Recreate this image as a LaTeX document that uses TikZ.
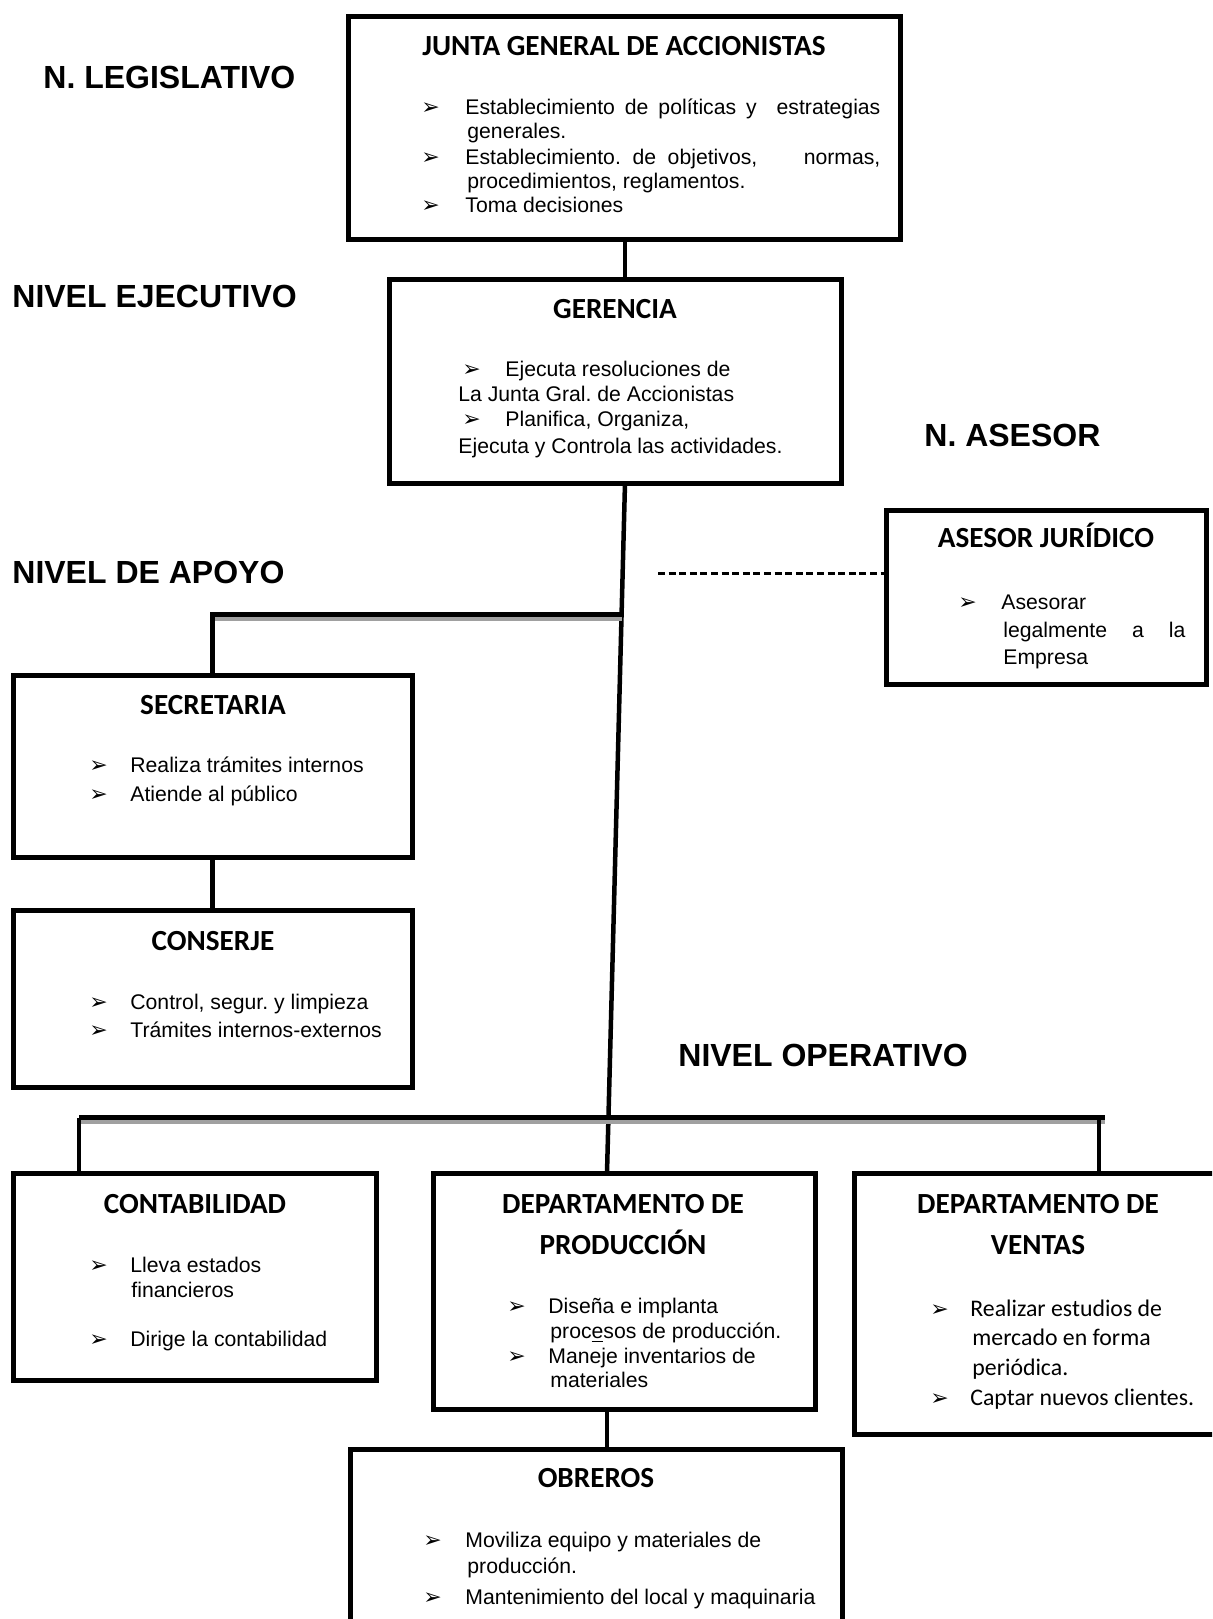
\documentclass[tikz,border=0pt]{standalone}
\usepackage{fontspec}
\setmainfont{Liberation Sans}
\newfontfamily\calib{Carlito}
\newfontfamily\dejavu{DejaVu Sans}
\usetikzlibrary{calc}

\definecolor{barshadow}{HTML}{A0A0A0}

% arrowhead bullet
\newcommand\bul{{\dejavu\fontsize{11}{11}\selectfont ➢}}
% framed unit given by its corner coordinates (left, top, right, bottom)
\newcommand\orgbox[5]{\node[box, minimum width={(#4-#2)*0.5pt}, minimum height={(#5-#3)*0.5pt}] (#1) at ({(#2+#4)/2},{(#3+#5)/2}) {};}

\tikzset{
  box/.style={draw, line width=2.5pt, rectangle, inner sep=0pt, outer sep=0pt},
  conn/.style={line width=2.25pt},
  bar/.style={line width=2.5pt, line join=miter},
  barshade/.style={line width=2pt, draw=barshadow},
  advice/.style={line width=1.5pt, dash pattern=on 3.5pt off 1.8pt},
  body/.style={inner sep=0pt, anchor=base west, font=\fontsize{10.6}{12.4}\selectfont},
  vbody/.style={inner sep=0pt, anchor=base west, font=\calib\fontsize{11.9}{14}\selectfont},
  title/.style={inner sep=0pt, anchor=base, font=\calib\bfseries\fontsize{14.6}{17}\selectfont},
  level/.style={inner sep=0pt, anchor=base west, font=\bfseries\fontsize{16}{19}\selectfont},
  bmark/.style={inner sep=0pt, anchor=base west},
}

\begin{document}
\frenchspacing
\begin{tikzpicture}[x=0.5pt, y=-0.5pt]
\path[use as bounding box] (0,0) rectangle (1212,1619);
\clip (0,0) rectangle (1212,1619);

% ---------- boxes ----------
\orgbox{junta}{348}{16}{900}{239}
\orgbox{geren}{389}{279}{841}{483}
\orgbox{asesor}{886}{510}{1206}{684}
\orgbox{secre}{13}{675}{412}{857}
\orgbox{conse}{13}{910}{412}{1087}
\orgbox{conta}{13}{1173}{376}{1380}
\orgbox{prod}{433}{1173}{815}{1409}
\orgbox{ventas}{854}{1173}{1230}{1434}
\orgbox{obreros}{350}{1449}{842}{1650}

% ---------- connectors ----------
\coordinate (jx) at (625,0);
\draw[conn] (junta.south -| jx) -- (geren.north -| jx);

\coordinate (mtop) at (geren.south -| jx);
\coordinate (mbot) at ($(prod.north)+(-17,0)$);
\draw[conn] (mtop) -- (mbot);

% support level branch
\coordinate (ja) at ($(mtop)!0.19!(mbot)$);
\draw[barshade] ($(ja)+(0,4.5)$) -- ($(ja -| secre.north)+(2,4.5)$);
\draw[bar] (ja) -- (ja -| secre.north) -- (secre.north);
\draw[conn] (secre.south) -- (conse.north);

% advisory link
\coordinate (dstart) at (658,573);
\draw[advice] (dstart) -- (dstart -| asesor.west);

% operative level branch
\coordinate (ol) at (79,1117.5);
\coordinate (orr) at (1105,1117.5);
\coordinate (ovr) at (1099,1117.5);
\draw[barshade] (80,1122) -- (1105,1122);
\draw[bar] (ol) -- (orr);
\draw[conn] (ol) -- (ol |- conta.north);
\draw[conn] (ovr) -- (ovr |- ventas.north);
\draw[conn] (prod.south -| mbot) -- (obreros.north -| mbot);

% ---------- level labels ----------
\node[level] (lleg) at (43,88.5) {N. LEGISLATIVO};
\node[level] (lejec) at (12,307.5) {NIVEL EJECUTIVO};
\node[level] (lases) at (924,446.5) {N. ASESOR};
\node[level] (lapoy) at (12,583.5) {NIVEL DE APOYO};
\node[level] (loper) at (678,1066.5) {NIVEL OPERATIVO};

% ---------- junta ----------
\node[title] (tjunta) at (624,55.5) {JUNTA GENERAL DE ACCIONISTAS};
\node[bmark] (ja1) at (421,114) {\bul};
\node[body] (jt1) at (465,114) {\makebox[207.5pt][s]{Establecimiento de políticas y\ \ estrategias}};
\node[body] (jt2) at (467,138) {generales.};
\node[bmark] (ja3) at (421,164) {\bul};
\node[body] (jt3) at (465,164) {\makebox[207.5pt][s]{Establecimiento. de objetivos,\ \ \ \ normas,}};
\node[body] (jt4) at (467,188) {procedimientos, reglamentos.};
\node[bmark] (ja5) at (421,212) {\bul};
\node[body] (jt5) at (465,212) {Toma decisiones};

% ---------- gerencia ----------
\node[title] (tgeren) at (615,318.5) {GERENCIA};
\node[bmark] (ga1) at (462,376) {\bul};
\node[body] (gt1) at (505,376) {Ejecuta resoluciones de};
\node[body] (gt2) at (458,401) {La Junta Gral. de Accionistas};
\node[bmark] (ga3) at (462,426) {\bul};
\node[body] (gt3) at (505,426) {Planifica, Organiza,};
\node[body] (gt4) at (458,453) {Ejecuta y Controla las actividades.};

% ---------- asesor ----------
\node[title] (tases) at (1046,547.5) {ASESOR JURÍDICO};
\node[bmark] (aa1) at (958,609) {\bul};
\node[body] (at1) at (1001,609) {Asesorar};
\node[body] (at2) at (1003,637) {\makebox[91pt][s]{legalmente a la}};
\node[body] (at3) at (1003,664) {Empresa};

% ---------- secretaria ----------
\node[title] (tsecre) at (213,714.5) {SECRETARIA};
\node[bmark] (sa1) at (89,772) {\bul};
\node[body] (st1) at (130,772) {Realiza trámites internos};
\node[bmark] (sa2) at (89,801) {\bul};
\node[body] (st2) at (130,801) {Atiende al público};

% ---------- conserje ----------
\node[title] (tconse) at (213,950.5) {CONSERJE};
\node[bmark] (ca1) at (89,1009) {\bul};
\node[body] (ct1) at (130,1009) {Control, segur. y limpieza};
\node[bmark] (ca2) at (89,1037) {\bul};
\node[body] (ct2) at (130,1037) {Trámites internos-externos};

% ---------- contabilidad ----------
\node[title] (tconta) at (195,1213.5) {CONTABILIDAD};
\node[bmark] (ka1) at (89,1272) {\bul};
\node[body] (kt1) at (130,1272) {Lleva estados};
\node[body] (kt2) at (131,1297) {financieros};
\node[bmark] (ka3) at (89,1346) {\bul};
\node[body] (kt3) at (130,1346) {Dirige la contabilidad};

% ---------- produccion ----------
\node[title] (tprod1) at (623,1213.5) {DEPARTAMENTO DE};
\node[title] (tprod2) at (623,1254.5) {PRODUCCIÓN};
\node[bmark] (pa1) at (507,1313) {\bul};
\node[body] (pt1) at (548,1313) {Diseña e implanta};
\node[body] (pt2) at (550,1338) {proc\underline{e}sos de producción.};
\node[bmark] (pa3) at (507,1363) {\bul};
\node[body] (pt3) at (548,1363) {Maneje inventarios de};
\node[body] (pt4) at (550,1387) {materiales};

% ---------- ventas ----------
\node[title] (tvent1) at (1038,1213.5) {DEPARTAMENTO DE};
\node[title] (tvent2) at (1038,1254.5) {VENTAS};
\node[bmark] (va1) at (930,1316) {\bul};
\node[vbody] (vt1) at (970,1316) {Realizar estudios de};
\node[vbody] (vt2) at (972,1345) {mercado en forma};
\node[vbody] (vt3) at (972,1375) {periódica.};
\node[bmark] (va4) at (930,1405) {\bul};
\node[vbody] (vt4) at (970,1405) {Captar nuevos clientes.};

% ---------- obreros ----------
\node[title] (tobre) at (596,1487.5) {OBREROS};
\node[bmark] (oa1) at (423,1547) {\bul};
\node[body] (ot1) at (465,1547) {Moviliza equipo y materiales de};
\node[body] (ot2) at (467,1573) {producción.};
\node[bmark] (oa3) at (423,1604) {\bul};
\node[body] (ot3) at (465,1604) {Mantenimiento del local y maquinaria};
\end{tikzpicture}
\end{document}
